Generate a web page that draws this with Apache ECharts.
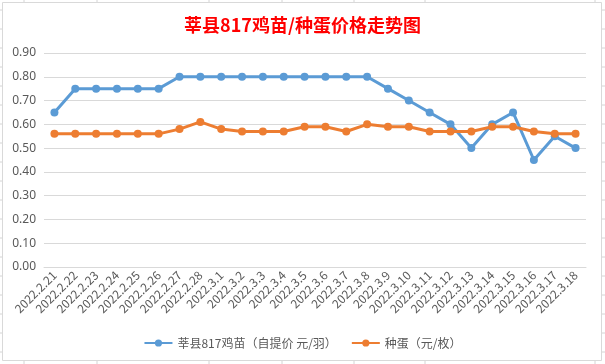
<!DOCTYPE html>
<html>
<head>
<meta charset="utf-8">
<script src="https://cdn.jsdelivr.net/npm/echarts@6/dist/echarts.min.js"></script>
<style>
html,body{margin:0;padding:0;background:#fff;}
#c{width:605px;height:364px;}
</style>
</head>
<body>
<div id="c"></div>
<script>
const categories = ['2022.2.21','2022.2.22','2022.2.23','2022.2.24','2022.2.25','2022.2.26','2022.2.27','2022.2.28',
  '2022.3.1','2022.3.2','2022.3.3','2022.3.4','2022.3.5','2022.3.6','2022.3.7','2022.3.8','2022.3.9','2022.3.10',
  '2022.3.11','2022.3.12','2022.3.13','2022.3.14','2022.3.15','2022.3.16','2022.3.17','2022.3.18'];
const chickPrice = [0.65,0.75,0.75,0.75,0.75,0.75,0.80,0.80,0.80,0.80,0.80,0.80,0.80,0.80,0.80,0.80,0.75,0.70,0.65,0.60,0.50,0.60,0.65,0.45,0.55,0.50];
const eggPrice = [0.56,0.56,0.56,0.56,0.56,0.56,0.58,0.61,0.58,0.57,0.57,0.57,0.59,0.59,0.57,0.60,0.59,0.59,0.57,0.57,0.57,0.59,0.59,0.57,0.56,0.56];
const seriesNames = ['莘县817鸡苗（自提价 元/羽）','种蛋（元/枚）'];
const titleText = '莘县817鸡苗/种蛋价格走势图';

const chart = echarts.init(document.getElementById('c'));

// decorative spreadsheet cell ticks outside the chart frame
const deco = [];
const colX = [24, 97, 209, 282, 354, 425, 595];
colX.forEach(x => {
  deco.push({type:'line', shape:{x1:x,y1:0,x2:x,y2:2}, style:{stroke:'#D4D4D4',lineWidth:1}, silent:true});
  deco.push({type:'line', shape:{x1:x,y1:361,x2:x,y2:364}, style:{stroke:'#D4D4D4',lineWidth:1}, silent:true});
});
for (let y = 10; y < 362; y += 19) {
  deco.push({type:'line', shape:{x1:0,y1:y,x2:2,y2:y}, style:{stroke:'#D4D4D4',lineWidth:1}, silent:true});
  deco.push({type:'line', shape:{x1:602,y1:y,x2:605,y2:y}, style:{stroke:'#D4D4D4',lineWidth:1}, silent:true});
}
deco.push({type:'rect', shape:{x:2.5,y:2.5,width:599,height:358}, style:{fill:'none',stroke:'#D9D9D9',lineWidth:1}, silent:true});

chart.setOption({
  backgroundColor:'#ffffff',
  animation:false,
  graphic: deco,
  title:{
    text:titleText, left:'center', top:11,
    textStyle:{color:'#FF0000', fontSize:18, fontWeight:'bold', fontFamily:'"Noto Sans CJK SC", sans-serif'}
  },
  legend:{
    bottom:10, left:'center', itemWidth:28, itemHeight:9, itemGap:14,
    textStyle:{color:'#595959', fontSize:12, fontFamily:'"Noto Sans CJK SC", sans-serif'},
    data:seriesNames
  },
  grid:{left:44, right:19, top:53, bottom:97, containLabel:false},
  xAxis:{
    type:'category', data:categories, boundaryGap:true,
    axisLine:{lineStyle:{color:'#D9D9D9'}},
    axisTick:{show:false},
    axisLabel:{rotate:45, interval:0, color:'#595959', fontSize:12, margin:6, fontFamily:'"Noto Sans CJK SC", sans-serif'}
  },
  yAxis:{
    type:'value', min:0, max:0.9, interval:0.1,
    axisLine:{show:false}, axisTick:{show:false},
    splitLine:{lineStyle:{color:'#D9D9D9'}},
    axisLabel:{color:'#595959', fontSize:12, margin:8, formatter:v=>v.toFixed(2), fontFamily:'"Noto Sans", sans-serif'}
  },
  series:[
    {name:seriesNames[0], type:'line', data:chickPrice, symbol:'circle', symbolSize:8,
     itemStyle:{color:'#5B9BD5'}, lineStyle:{color:'#5B9BD5', width:3}},
    {name:seriesNames[1], type:'line', data:eggPrice, symbol:'circle', symbolSize:8,
     itemStyle:{color:'#ED7D31'}, lineStyle:{color:'#ED7D31', width:3}}
  ]
});
</script>
</body>
</html>
